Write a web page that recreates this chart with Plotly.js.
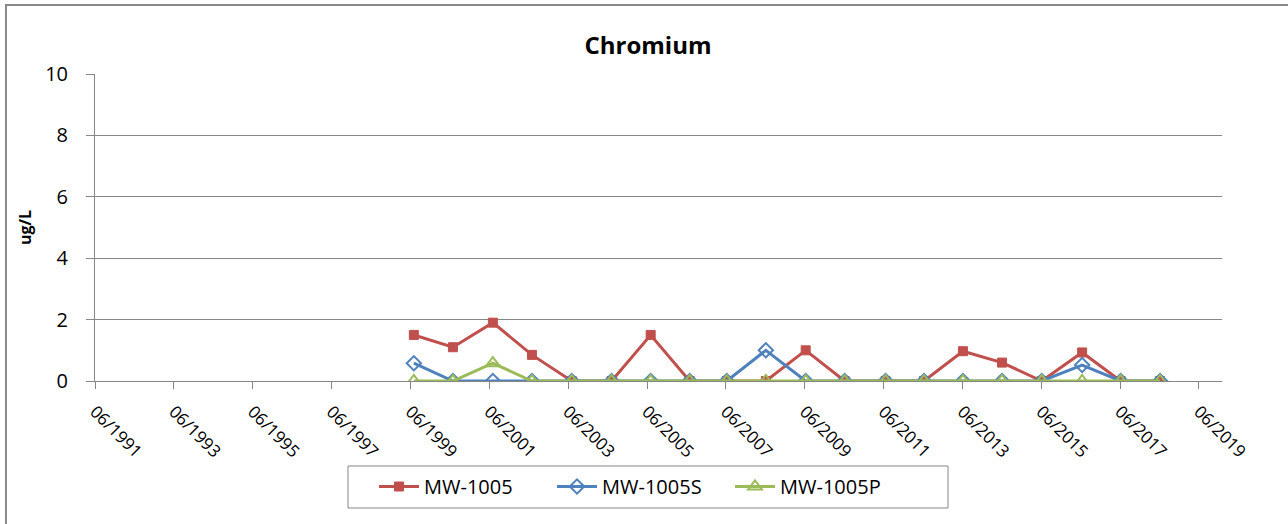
<!DOCTYPE html>
<html>
<head>
<meta charset="utf-8">
<script src="https://cdn.plot.ly/plotly-3.0.1.min.js"></script>
<style>
html,body{margin:0;padding:0;background:#fff;}
#chart{width:1288px;height:524px;}
</style>
</head>
<body>
<div id="chart"></div>
<script>
const dates = ['1999-07-03','2000-06-29','2001-07-04','2002-07-01','2003-07-05','2004-07-08','2005-07-05','2006-07-01','2007-06-10','2008-06-06','2009-06-10','2010-06-06','2011-06-20','2012-06-10','2013-06-06','2014-06-03','2015-06-06','2016-06-14','2017-06-06','2018-06-06'];
const mw1005  = [1.5, 1.1, 1.9, 0.85, 0, 0, 1.5, 0, 0, 0, 1.0, 0, 0, 0, 0.97, 0.6, 0, 0.93, 0, 0];
const mw1005S = [0.58, 0, 0, 0, 0, 0, 0, 0, 0, 1.0, 0, 0, 0, 0, 0, 0, 0, 0.52, 0, 0];
const mw1005P = [0, 0, 0.58, 0, 0, 0, 0, 0, 0, 0, 0, 0, 0, 0, 0, 0, 0, 0, 0, 0];
const seriesNames = ['MW-1005','MW-1005S','MW-1005P'];
const tickDates = ['1991-06-01','1993-06-01','1995-06-01','1997-06-01','1999-06-01','2001-06-01','2003-06-01','2005-06-01','2007-06-01','2009-06-01','2011-06-01','2013-06-01','2015-06-01','2017-06-01','2019-06-01'];
const tickLabels = ['06/1991','06/1993','06/1995','06/1997','06/1999','06/2001','06/2003','06/2005','06/2007','06/2009','06/2011','06/2013','06/2015','06/2017','06/2019'];
const yTicks = [0,2,4,6,8,10];

const FONT = 'Open Sans, Noto Sans, sans-serif';
const traces = [
  {x: dates, y: mw1005, name: seriesNames[0], mode: 'lines+markers',
   line: {color: '#C0504D', width: 3},
   marker: {symbol: 'square', size: 9, color: '#C0504D', line: {color: '#C0504D', width: 1}}},
  {x: dates, y: mw1005S, name: seriesNames[1], mode: 'lines+markers',
   line: {color: '#4F81BD', width: 3},
   marker: {symbol: 'diamond-open', size: 11, color: '#4F81BD', line: {color: '#4F81BD', width: 2}}},
  {x: dates, y: mw1005P, name: seriesNames[2], mode: 'lines+markers',
   line: {color: '#9BBB59', width: 3},
   marker: {symbol: 'triangle-up-open', size: 12, color: '#9BBB59', line: {color: '#9BBB59', width: 2}}}
];

const W = 1288, H = 524, L = 95, R = 66, T = 74, B = 143;
const pw = W - L - R, ph = H - T - B;
const px = v => (v - L) / pw;
const py = v => (H - B - v) / ph;

const layout = {
  width: W, height: H,
  margin: {l: L, r: R, t: T, b: B, pad: 0},
  paper_bgcolor: '#ffffff', plot_bgcolor: '#ffffff',
  font: {family: FONT, color: '#000', size: 15},
  title: {text: '<b>Chromium</b>', font: {family: FONT, size: 24, color: '#000'},
          x: px(648), xref: 'paper', xanchor: 'center', y: 1 - 46 / H, yanchor: 'middle'},
  showlegend: true,
  legend: {orientation: 'h', x: px(374), xanchor: 'left', y: py(467), yanchor: 'top',
           borderwidth: 0, bgcolor: 'rgba(0,0,0,0)',
           font: {family: FONT, size: 20, color: '#000'}, itemwidth: 40,
           entrywidth: 123, entrywidthmode: 'pixels',
           traceorder: 'normal'},
  xaxis: {type: 'date', range: ['1991-06-01', '2020-01-01'],
          tickvals: tickDates, ticktext: tickLabels, tickangle: 45,
          showgrid: false, zeroline: false, showline: true, linecolor: '#868686', linewidth: 1,
          ticks: 'outside', ticklen: 7, tickcolor: '#868686', tickwidth: 1, ticklabelstandoff: 6,
          tickfont: {family: FONT, size: 17, color: '#000'}, fixedrange: true},
  yaxis: {range: [0, 10], tickvals: yTicks, ticktext: yTicks.map(String),
          title: {text: '<b>ug/L</b>', font: {family: FONT, size: 16, color: '#000'}, standoff: 9},
          showgrid: true, gridcolor: '#868686', gridwidth: 1,
          zeroline: false, showline: true, linecolor: '#868686', linewidth: 1,
          ticks: 'outside', ticklen: 8, tickcolor: '#868686', tickwidth: 1, ticklabelstandoff: 14,
          tickfont: {family: FONT, size: 20, color: '#000'}, fixedrange: true},
  shapes: [
    {type: 'rect', xref: 'paper', yref: 'paper', x0: px(6), x1: px(1300), y0: py(540), y1: py(5),
     line: {color: '#898989', width: 2}, fillcolor: 'rgba(0,0,0,0)', layer: 'below'},
    {type: 'rect', xref: 'paper', yref: 'paper', x0: px(348), x1: px(948), y0: py(508), y1: py(466),
     line: {color: '#868686', width: 1}, fillcolor: 'rgba(0,0,0,0)', layer: 'below'}
  ]
};

Plotly.newPlot('chart', traces, layout, {displayModeBar: false, staticPlot: true});
</script>
</body>
</html>
